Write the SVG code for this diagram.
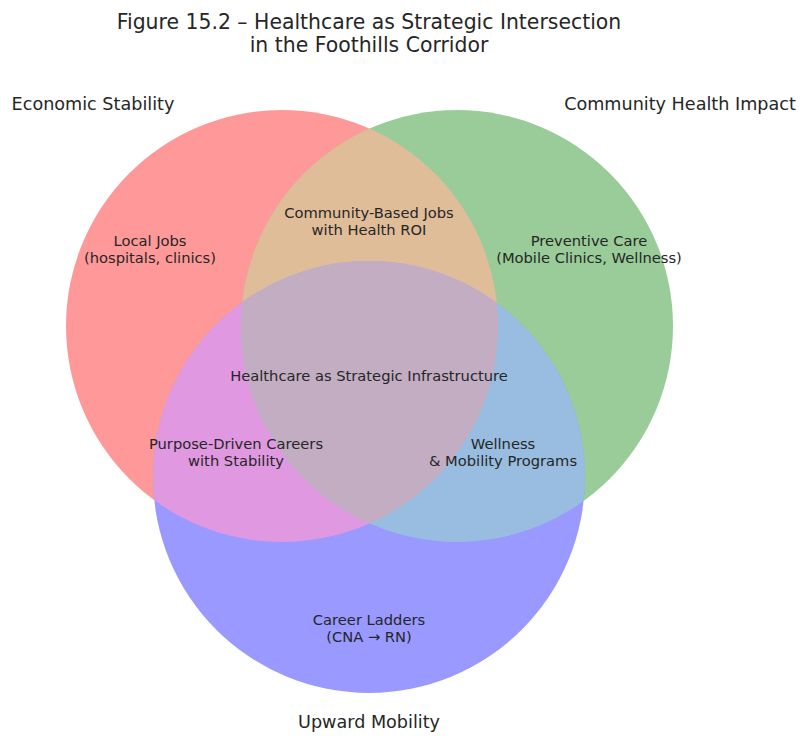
<svg xmlns="http://www.w3.org/2000/svg" width="807" height="756" viewBox="0 0 807 756">
<style>
text{font-family:"DejaVu Sans","Liberation Sans",sans-serif;fill:#262626;text-anchor:middle}
.t{font-size:20.4px}
.s{font-size:17.6px}
.r{font-size:14.7px}
</style>
<defs>
<clipPath id="cA"><circle cx="282" cy="326" r="216"/></clipPath>
<clipPath id="cB"><circle cx="457" cy="326" r="216"/></clipPath>
<clipPath id="cC"><circle cx="369" cy="477" r="216"/></clipPath>
</defs>
<rect width="807" height="756" fill="#ffffff"/>
<g id="title">
<text class="t" x="369" y="29">Figure 15.2 – Healthcare as Strategic Intersection</text>
<text class="t" x="369" y="52">in the Foothills Corridor</text>
</g>
<g id="circles">
<circle id="set-economic" cx="282" cy="326" r="216" fill="#ff9999"/>
<circle id="set-community" cx="457" cy="326" r="216" fill="#99cc99"/>
<circle id="set-upward" cx="369" cy="477" r="216" fill="#9999ff"/>
<g id="region-ab" clip-path="url(#cA)"><circle cx="457" cy="326" r="216" fill="#e0bd99"/></g>
<g id="region-ac" clip-path="url(#cA)"><circle cx="369" cy="477" r="216" fill="#e099e0"/></g>
<g id="region-bc" clip-path="url(#cB)"><circle cx="369" cy="477" r="216" fill="#99bde0"/></g>
<g id="region-abc" clip-path="url(#cA)"><g clip-path="url(#cB)"><circle cx="369" cy="477" r="216" fill="#c2adc2"/></g></g>
</g>
<g id="connectors"></g>
<g id="set-labels">
<text class="s" x="93" y="110">Economic Stability</text>
<text class="s" x="680" y="110">Community Health Impact</text>
<text class="s" x="369" y="728">Upward Mobility</text>
</g>
<g id="node-local-jobs">
<text class="r" x="150" y="246">Local Jobs</text>
<text class="r" x="150" y="263">(hospitals, clinics)</text>
</g>
<g id="node-community-jobs">
<text class="r" x="369" y="218">Community-Based Jobs</text>
<text class="r" x="369" y="235">with Health ROI</text>
</g>
<g id="node-preventive">
<text class="r" x="589" y="246">Preventive Care</text>
<text class="r" x="589" y="263">(Mobile Clinics, Wellness)</text>
</g>
<g id="node-center">
<text class="r" x="369" y="381">Healthcare as Strategic Infrastructure</text>
</g>
<g id="node-purpose">
<text class="r" x="236" y="449">Purpose-Driven Careers</text>
<text class="r" x="236" y="466">with Stability</text>
</g>
<g id="node-wellness">
<text class="r" x="503" y="449">Wellness</text>
<text class="r" x="503" y="466">&amp; Mobility Programs</text>
</g>
<g id="node-career">
<text class="r" x="369" y="625">Career Ladders</text>
<text class="r" x="369" y="642">(CNA → RN)</text>
</g>
</svg>
